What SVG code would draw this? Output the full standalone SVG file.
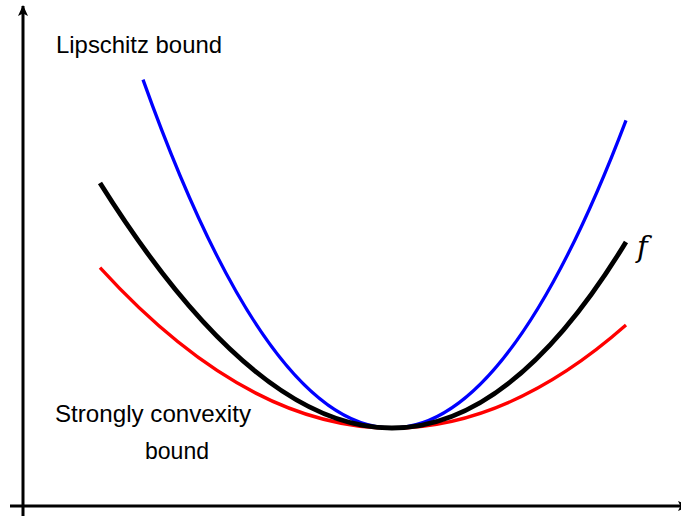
<svg xmlns="http://www.w3.org/2000/svg" width="681" height="516" viewBox="0 0 681 516">
<style>
.lbl{font-family:"Liberation Sans",Arial,sans-serif;font-size:24px;fill:#000}
.crv{fill:none;stroke-linecap:butt}
</style>
<defs>
<marker id="ah" markerWidth="12" markerHeight="10" refX="10" refY="5" orient="auto" markerUnits="userSpaceOnUse">
<path d="M0,0 L11,5 L0,10 L2.5,5 Z" fill="#000"/>
</marker>
</defs>
<rect width="681" height="516" fill="#fff"/>
<g id="axes" stroke="#000" stroke-width="3" fill="none">
<line x1="23" y1="516" x2="23" y2="6" marker-end="url(#ah)"/>
<line x1="10" y1="506" x2="688" y2="506" marker-end="url(#ah)"/>
</g>
<g id="connectors">
<path id="blue" class="crv" d="M143,79.6 Q384.5,755.5 626,120.3" stroke="#0000ff" stroke-width="3.3"/>
<path id="red" class="crv" d="M100,267.7 Q363,556.5 626,325.1" stroke="#ff0000" stroke-width="3.3"/>
<path id="black" class="crv" d="M100,183 C275.33,462.3 450.67,530.3 626,242" stroke="#000" stroke-width="4.8"/>
</g>
<g id="label-lipschitz"><text class="lbl" x="56" y="53.3" textLength="166" lengthAdjust="spacingAndGlyphs">Lipschitz bound</text></g>
<g id="label-strong">
<text class="lbl" x="55" y="422" textLength="196" lengthAdjust="spacingAndGlyphs">Strongly convexity</text>
<text class="lbl" x="145" y="458.7" textLength="64" lengthAdjust="spacingAndGlyphs">bound</text>
</g>
<g id="label-f"><text x="637" y="257" font-family="'DejaVu Serif','Liberation Serif',serif" font-style="italic" font-size="29">f</text></g>
</svg>
